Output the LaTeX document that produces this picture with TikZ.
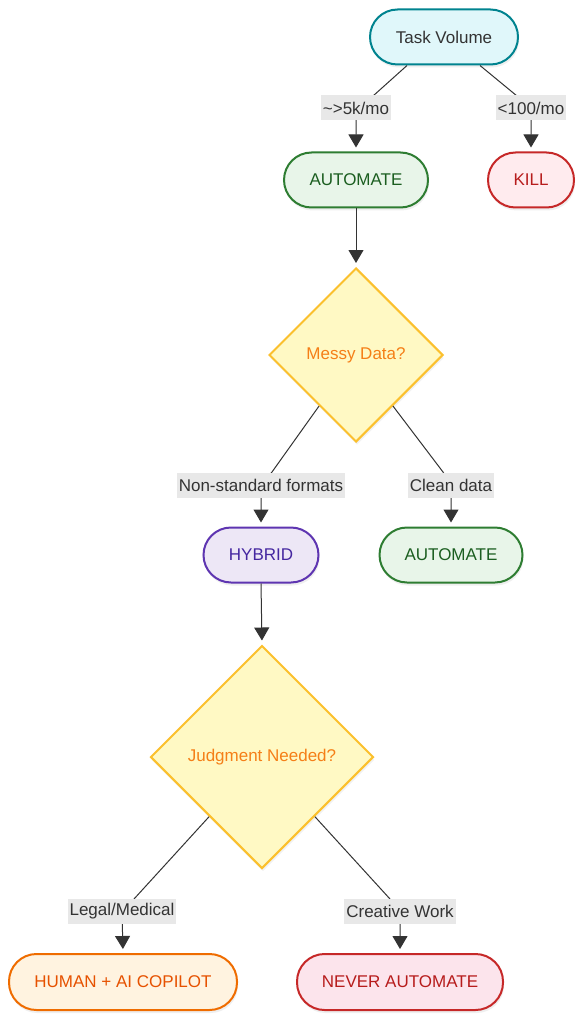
\documentclass[tikz,border=0pt]{standalone}
\usepackage{fontspec}
\setmainfont{Liberation Sans}
\usetikzlibrary{shapes.geometric,arrows.meta,calc,shadows}
\definecolor{txt}{HTML}{333333}
\definecolor{edgec}{HTML}{333333}
\definecolor{labF}{HTML}{E8E8E8}
\definecolor{tvF}{HTML}{E0F7FA}\definecolor{tvD}{HTML}{00838F}
\definecolor{grF}{HTML}{E8F5E9}\definecolor{grD}{HTML}{2E7D32}\definecolor{grT}{HTML}{1B5E20}
\definecolor{rdF}{HTML}{FFEBEE}\definecolor{rdD}{HTML}{C62828}\definecolor{rdT}{HTML}{B71C1C}
\definecolor{pkF}{HTML}{FCE4EC}
\definecolor{ylF}{HTML}{FFF9C4}\definecolor{ylD}{HTML}{FBC02D}\definecolor{ylT}{HTML}{F57F17}
\definecolor{puF}{HTML}{EDE7F6}\definecolor{puD}{HTML}{5E35B1}\definecolor{puT}{HTML}{4527A0}
\definecolor{orF}{HTML}{FFF3E0}\definecolor{orD}{HTML}{EF6C00}\definecolor{orT}{HTML}{E65100}
\begin{document}
\begin{tikzpicture}[x=1pt,y=-1pt,
  font=\fontsize{17}{20}\selectfont,
  pill/.style={draw, line width=2pt, rounded corners=27.5pt, minimum height=55pt,
    inner sep=0pt, align=center,
    drop shadow={opacity=0.12, shadow xshift=1pt, shadow yshift=-3pt}},
  dec/.style={diamond, aspect=1, draw=ylD, fill=ylF, text=ylT, line width=2pt, inner sep=0pt,
    drop shadow={opacity=0.10, shadow xshift=1pt, shadow yshift=-3pt}},
  lab/.style={fill=labF, text=txt, inner xsep=2pt, inner ysep=0pt, minimum height=25pt},
  arr/.style={draw=edgec, line width=1pt, shorten >=4pt, -{Triangle[length=13pt,width=15pt]}}]
\useasboundingbox[fill=white] (0,0) rectangle (585,1024);

% nodes
\node[pill, draw=tvD, fill=tvF, text=txt, minimum width=148pt] (tv) at (444,37) {Task Volume};
\node[pill, draw=grD, fill=grF, text=grT, minimum width=144pt] (auto1) at (356,180) {AUTOMATE};
\node[pill, draw=rdD, fill=rdF, text=rdT, minimum width=86pt] (kill) at (531,180) {KILL};
\node[dec, minimum width=174pt, minimum height=174pt] (md) at (356,355) {Messy Data?};
\node[pill, draw=puD, fill=puF, text=puT, minimum width=115pt] (hyb) at (261,555) {HYBRID};
\node[pill, draw=grD, fill=grF, text=grT, minimum width=143pt] (auto2) at (451,555) {AUTOMATE};
\node[dec, minimum width=223pt, minimum height=223pt] (jn) at (262,757) {Judgment Needed?};
\node[pill, draw=orD, fill=orF, text=orT, minimum width=228pt, minimum height=56pt] (human) at (123,982) {HUMAN + AI COPILOT};
\node[pill, draw=rdD, fill=pkF, text=rdT, minimum width=206pt, minimum height=56pt] (never) at (400,982) {NEVER AUTOMATE};

% label positions
\coordinate (l1) at (356,108);
\coordinate (l2) at (531,108);
\coordinate (l3) at (261,485);
\coordinate (l4) at (451,485);
\coordinate (l5) at (122,911);
\coordinate (l6) at (400,911);

% connectors
\draw[arr] ($(tv.south)+(-37,0)$) -- ($(l1)+(17,-12)$) -- (l1) -- (auto1.north);
\draw[arr] ($(tv.south)+(36,0)$) -- ($(l2)+(-14,-12)$) -- (l2) -- (kill.north);
\draw[arr] (auto1.south) -- (md.north);
\draw[arr] ($(md.west)!0.58!(md.south)$) -- ($(l3)+(11,-13)$) -- (l3) -- (hyb.north);
\draw[arr] ($(md.east)!0.58!(md.south)$) -- ($(l4)+(-8,-13)$) -- (l4) -- (auto2.north);
\draw[arr] (hyb.south) -- (jn.north);
\draw[arr] ($(jn.west)!0.53!(jn.south)$) -- ($(l5)+(12,-12)$) -- (l5) -- (human.north);
\draw[arr] ($(jn.east)!0.53!(jn.south)$) -- ($(l6)+(-10,-12)$) -- (l6) -- (never.north);

% edge labels
\node[lab] (t1) at (l1) {\textasciitilde>5k/mo};
\node[lab] (t2) at (l2) {<100/mo};
\node[lab] (t3) at (l3) {Non-standard formats};
\node[lab] (t4) at (l4) {Clean data};
\node[lab] (t5) at (l5) {Legal/Medical};
\node[lab] (t6) at (l6) {Creative Work};
\end{tikzpicture}
\end{document}
